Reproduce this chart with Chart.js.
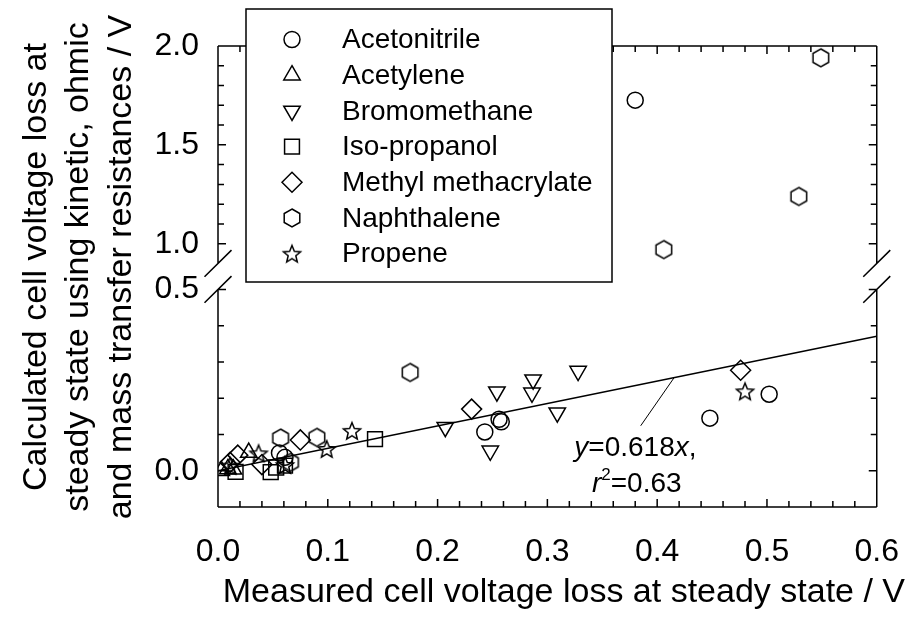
<!DOCTYPE html>
<html>
<head>
<meta charset="utf-8">
<script src="https://cdn.jsdelivr.net/npm/chart.js@4.4.0/dist/chart.umd.min.js"></script>
<style>
  html, body { margin: 0; padding: 0; background: #fff; }
</style>
</head>
<body>
<canvas id="chart" width="917" height="623"></canvas>
<script>
// measured (x) vs calculated (y) cell voltage loss, V
const acetonitrile = [[0.056, 0.049], [0.061, 0.037], [0.243, 0.107], [0.256, 0.142], [0.258, 0.135], [0.448, 0.145], [0.502, 0.211], [0.38, 1.726]];
const acetylene = [[0.003, 0.0], [0.009, 0.005], [0.014, 0.004], [0.028, 0.05]];
const bromomethane = [[0.207, 0.12], [0.248, 0.055], [0.254, 0.218], [0.286, 0.215], [0.287, 0.251], [0.309, 0.16], [0.328, 0.275]];
const isoPropanol = [[0.016, -0.003], [0.048, -0.004], [0.053, 0.009], [0.061, 0.014], [0.143, 0.087]];
const methylMethacrylate = [[0.011, 0.023], [0.018, 0.043], [0.04, 0.017], [0.075, 0.085], [0.231, 0.17], [0.476, 0.277]];
const naphthalene = [[0.057, 0.09], [0.066, 0.023], [0.09, 0.092], [0.175, 0.271], [0.406, 0.97], [0.529, 1.239], [0.549, 1.94]];
const propene = [[0.011, 0.014], [0.037, 0.048], [0.061, 0.016], [0.099, 0.06], [0.122, 0.11], [0.48, 0.219]];

const seriesNames = ["Acetonitrile", "Acetylene", "Bromomethane", "Iso-propanol", "Methyl methacrylate", "Naphthalene", "Propene"];
const seriesData = [acetonitrile, acetylene, bromomethane, isoPropanol, methylMethacrylate, naphthalene, propene];

// fitted line y = 0.618x
const fitX = [0, 0.6];
const fitY = [0, 0.371];

const xTickLabels = [0, 0.1, 0.2, 0.3, 0.4, 0.5, 0.6];
const yLowTickLabels = [0, 0.5];
const yHighTickLabels = [1.0, 1.5, 2.0];

const FONT = "'Liberation Sans', Arial, Helvetica, sans-serif";
const BREAK_AT = 0.7; // values above go on the upper axis segment

function makeMarker(kind) {
  const c = document.createElement('canvas');
  c.width = 24; c.height = 24;
  const g = c.getContext('2d');
  g.strokeStyle = '#000';
  g.lineWidth = 1.5;
  g.beginPath();
  if (kind === 'hexagon') {
    for (let i = 0; i < 6; i++) {
      const a = Math.PI / 3 * i - Math.PI / 2;
      const px = 12 + Math.cos(a) * 9, py = 12 + Math.sin(a) * 9;
      i ? g.lineTo(px, py) : g.moveTo(px, py);
    }
  } else {
    for (let i = 0; i < 10; i++) {
      const a = Math.PI / 5 * i - Math.PI / 2;
      const r = i % 2 ? 4 : 9;
      const px = 12 + Math.cos(a) * r, py = 12.8 + Math.sin(a) * r;
      i ? g.lineTo(px, py) : g.moveTo(px, py);
    }
  }
  g.closePath();
  g.stroke();
  return c;
}

const hexagon = makeMarker('hexagon');
const star = makeMarker('star');

const markerStyles = [
  { pointStyle: 'circle', rotation: 0, radius: 8 },
  { pointStyle: 'triangle', rotation: 0, radius: 9.5 },
  { pointStyle: 'triangle', rotation: 180, radius: 9.5 },
  { pointStyle: 'rect', rotation: 0, radius: 10.5 },
  { pointStyle: 'rectRot', rotation: 0, radius: 10 },
  { pointStyle: hexagon, rotation: 0, radius: 9 },
  { pointStyle: star, rotation: 0, radius: 9 }
];

function scatterSet(name, pts, m, axis) {
  return {
    type: 'scatter',
    label: name,
    data: pts.map(p => ({ x: p[0], y: p[1] })),
    yAxisID: axis,
    pointStyle: m.pointStyle,
    rotation: m.rotation,
    pointRadius: m.radius,
    pointHoverRadius: m.radius,
    pointBorderColor: '#000',
    pointBackgroundColor: 'rgba(0,0,0,0)',
    pointBorderWidth: 1.5
  };
}

const datasets = [{
  type: 'line',
  label: 'fit',
  data: fitX.map((v, i) => ({ x: v, y: fitY[i] })),
  yAxisID: 'yLow',
  borderColor: '#000',
  borderWidth: 1.5,
  pointRadius: 0,
  fill: false
}];

seriesNames.forEach((name, i) => {
  const low = seriesData[i].filter(p => p[1] < BREAK_AT);
  const high = seriesData[i].filter(p => p[1] >= BREAK_AT);
  datasets.push(scatterSet(name, low, markerStyles[i], 'yLow'));
  if (high.length) datasets.push(scatterSet(name, high, markerStyles[i], 'yHigh'));
});

function fixedTicks(values) {
  return scale => { scale.ticks = values.map(v => ({ value: v })); };
}

// axis frame with inward ticks and the // break marks
const framePlugin = {
  id: 'frame',
  afterDatasetsDraw(chart) {
    const ctx = chart.ctx;
    const x = chart.scales.x, lo = chart.scales.yLow, hi = chart.scales.yHigh;
    const L = x.left, R = x.right, T = hi.top, B = lo.bottom;
    ctx.save();
    ctx.strokeStyle = '#000';
    ctx.lineWidth = 1.5;
    ctx.beginPath();
    ctx.moveTo(L, B); ctx.lineTo(R, B);
    ctx.moveTo(L, T); ctx.lineTo(R, T);
    [L, R].forEach(ax => {
      ctx.moveTo(ax, hi.top); ctx.lineTo(ax, hi.bottom);
      ctx.moveTo(ax, lo.top); ctx.lineTo(ax, lo.bottom);
    });
    for (let i = 1; i < 30; i++) {
      const px = x.getPixelForValue(i * 0.02);
      const len = i % 5 === 0 ? 8 : 6;
      ctx.moveTo(px, B); ctx.lineTo(px, B - len);
      ctx.moveTo(px, T); ctx.lineTo(px, T + len);
    }
    for (let i = 0; i <= 5; i++) {
      const py = lo.getPixelForValue(i * 0.1);
      const len = (i === 0 || i === 5) ? 8 : 6;
      ctx.moveTo(L, py); ctx.lineTo(L + len, py);
      ctx.moveTo(R, py); ctx.lineTo(R - len, py);
    }
    for (let i = 10; i < 20; i++) {
      const py = hi.getPixelForValue(i * 0.1);
      const len = (i % 5 === 0) ? 8 : 6;
      ctx.moveTo(L, py); ctx.lineTo(L + len, py);
      ctx.moveTo(R, py); ctx.lineTo(R - len, py);
    }
    [L, R].forEach(ax => {
      [hi.bottom, lo.top].forEach(c => {
        ctx.moveTo(ax - 13.5, c + 13.3);
        ctx.lineTo(ax + 13.5, c - 13.3);
      });
    });
    ctx.stroke();

    // fit annotation
    const tx = x.getPixelForValue(0.3245), ty = lo.getPixelForValue(0.04);
    ctx.fillStyle = '#000';
    ctx.textBaseline = 'alphabetic';
    ctx.textAlign = 'left';
    let cx = tx;
    [['y', true], ['=0.618', false], ['x', true], [',', false]].forEach(([t, it]) => {
      ctx.font = (it ? 'italic ' : '') + '28px ' + FONT;
      ctx.fillText(t, cx, ty);
      cx += ctx.measureText(t).width;
    });
    const rx = x.getPixelForValue(0.3406), ry = lo.getPixelForValue(-0.058);
    ctx.font = 'italic 28px ' + FONT;
    ctx.fillText('r', rx, ry);
    cx = rx + ctx.measureText('r').width;
    ctx.font = '17px ' + FONT;
    ctx.fillText('2', cx, ry - 12);
    cx += ctx.measureText('2').width;
    ctx.font = '28px ' + FONT;
    ctx.fillText('=0.63', cx, ry);
    ctx.beginPath();
    ctx.lineWidth = 1;
    ctx.moveTo(x.getPixelForValue(0.385), lo.getPixelForValue(0.124));
    ctx.lineTo(x.getPixelForValue(0.4155), lo.getPixelForValue(0.257));
    ctx.stroke();
    ctx.restore();
  }
};

const legendPlugin = {
  id: 'boxLegend',
  afterDraw(chart) {
    const ctx = chart.ctx;
    const left = 246, top = 9, right = 612, bottom = 282;
    ctx.save();
    ctx.fillStyle = '#fff';
    ctx.fillRect(left, top, right - left, bottom - top);
    ctx.strokeStyle = '#000';
    ctx.lineWidth = 1.5;
    ctx.strokeRect(left, top, right - left, bottom - top);
    seriesNames.forEach((name, i) => {
      const y = 39.5 + i * 35.7;
      const m = markerStyles[i];
      ctx.strokeStyle = '#000';
      ctx.fillStyle = 'rgba(0,0,0,0)';
      ctx.lineWidth = 1.5;
      Chart.helpers.drawPoint(ctx, { pointStyle: m.pointStyle, rotation: m.rotation, radius: m.radius, borderWidth: 1.5 }, 292, y);
      ctx.fillStyle = '#000';
      ctx.font = '28px ' + FONT;
      ctx.textBaseline = 'middle';
      ctx.fillText(name, 342, y + 1);
    });
    ctx.restore();
  }
};

const tickFont = { family: FONT, size: 32 };
const titleFont = { family: FONT, size: 34, weight: 'normal', lineHeight: 1.25 };

new Chart(document.getElementById('chart'), {
  data: { datasets },
  options: {
    responsive: false,
    devicePixelRatio: 1,
    animation: false,
    layout: { padding: { top: 46, right: 12, left: 0, bottom: 0 } },
    plugins: {
      legend: { display: false },
      tooltip: { enabled: false },
      title: {
        display: true, position: 'bottom', align: 'end', color: '#000',
        text: 'Measured cell voltage loss at steady state / V',
        font: titleFont, padding: { top: 0, bottom: 9 }
      }
    },
    scales: {
      x: {
        type: 'linear', position: 'bottom', min: 0, max: 0.6,
        afterBuildTicks: fixedTicks(xTickLabels),
        afterFit: s => { s.height = 64.5; },
        ticks: { color: '#000', font: tickFont, padding: 18, callback: v => v.toFixed(1), maxRotation: 0 },
        grid: { display: false }, border: { display: false }
      },
      yLow: {
        type: 'linear', position: 'left', stack: 'y', stackWeight: 2177, weight: 1,
        min: -0.1, max: 0.5,
        afterBuildTicks: fixedTicks(yLowTickLabels),
        afterFit: s => { s.width = 218; },
        ticks: { color: '#000', font: tickFont, padding: 11, callback: v => v.toFixed(1) },
        grid: { display: false }, border: { display: false }
      },
      yGap: {
        type: 'linear', position: 'left', stack: 'y', stackWeight: 260, weight: 2,
        min: 0, max: 1,
        afterFit: s => { s.width = 218; },
        ticks: { display: false },
        grid: { display: false }, border: { display: false },
        title: {
          display: true, color: '#000', font: titleFont, padding: { top: 15, bottom: 0 },
          text: ['  Calculated cell voltage loss at', '  steady state using kinetic, ohmic', '  and mass transfer resistances / V']
        }
      },
      yHigh: {
        type: 'linear', position: 'left', stack: 'y', stackWeight: 2176, weight: 3,
        min: 0.9, max: 2.0,
        afterBuildTicks: fixedTicks(yHighTickLabels),
        afterFit: s => { s.width = 218; },
        ticks: { color: '#000', font: tickFont, padding: 11, callback: v => v.toFixed(1) },
        grid: { display: false }, border: { display: false }
      },
      // empty strip on the right so the bottom title can run past the plot edge
      yPad: {
        type: 'linear', position: 'right', min: 0, max: 1,
        afterFit: s => { s.width = 27; },
        ticks: { display: false },
        grid: { display: false }, border: { display: false }
      }
    }
  },
  plugins: [framePlugin, legendPlugin]
});
</script>
</body>
</html>
